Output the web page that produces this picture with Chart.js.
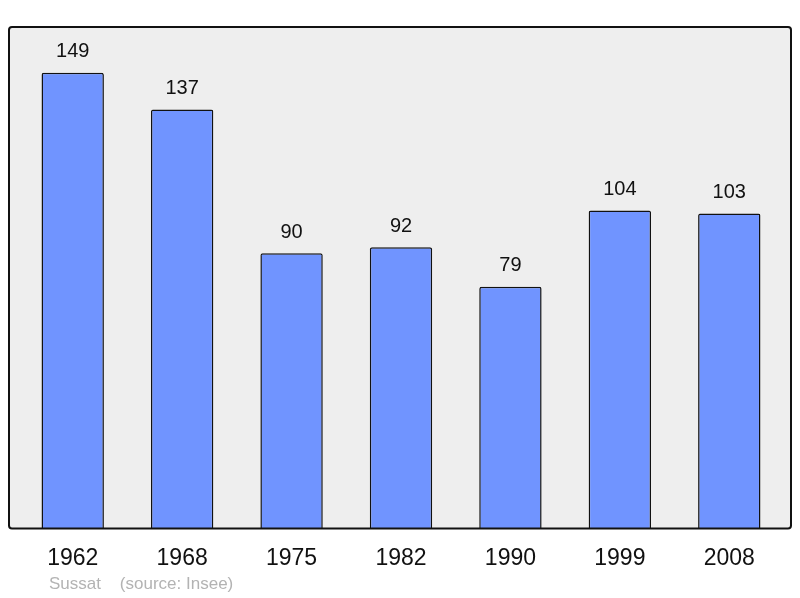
<!DOCTYPE html>
<html>
<head>
<meta charset="utf-8">
<script src="https://cdn.jsdelivr.net/npm/chart.js@4/dist/chart.umd.min.js"></script>
<style>
  body { margin: 0; background: #fff; }
  #wrap { position: relative; width: 800px; height: 598px; }
  #source { position: absolute; left: 49px; top: 574px; font: 17px "Liberation Sans", Arial, sans-serif; color: #b3b3b3; white-space: pre; }
</style>
</head>
<body>
<div id="wrap">
  <canvas id="popChart" width="800" height="598"></canvas>
  <div id="source">Sussat    (source: Insee)</div>
</div>
<script>
const years = ['1962', '1968', '1975', '1982', '1990', '1999', '2008'];
const population = [149, 137, 90, 92, 79, 104, 103];
const yMax = 164;

// grey frame behind the bars, black outline on top
const framePlugin = {
    id: 'frame',
    beforeDatasetsDraw(chart) {
        const a = chart.chartArea, ctx = chart.ctx;
        ctx.save();
        ctx.beginPath();
        ctx.roundRect(a.left - 9, a.top, a.right - a.left + 16, a.bottom - a.top, 3);
        ctx.fillStyle = '#eeeeee';
        ctx.fill();
        ctx.restore();
    },
    afterDatasetsDraw(chart) {
        const a = chart.chartArea, ctx = chart.ctx;
        ctx.save();
        ctx.beginPath();
        ctx.roundRect(a.left - 9, a.top, a.right - a.left + 16, a.bottom - a.top, 3);
        ctx.lineWidth = 2;
        ctx.strokeStyle = '#111';
        ctx.stroke();

        // value labels above each bar
        ctx.font = '20px "Liberation Sans", Arial, sans-serif';
        ctx.fillStyle = '#111';
        ctx.textAlign = 'center';
        ctx.textBaseline = 'middle';
        chart.getDatasetMeta(0).data.forEach((bar, i) => {
            ctx.fillText(population[i], bar.x, bar.y - 21);
        });
        ctx.restore();
    }
};

new Chart(document.getElementById('popChart'), {
    type: 'bar',
    data: {
        labels: years,
        datasets: [{
            data: population,
            backgroundColor: '#7094ff',
            borderColor: '#111',
            borderWidth: 1.5,
            borderSkipped: 'bottom',
            borderRadius: { topLeft: 2, topRight: 2 },
            categoryPercentage: 1,
            barPercentage: 0.57
        }]
    },
    options: {
        responsive: false,
        animation: false,
        layout: { padding: { left: 18, right: 16, top: 27, bottom: 10 } },
        plugins: { legend: { display: false }, tooltip: { enabled: false } },
        scales: {
            x: {
                grid: { display: false, drawTicks: false },
                border: { display: false },
                ticks: {
                    padding: 16,
                    color: '#111',
                    font: { family: '"Liberation Sans", Arial, sans-serif', size: 23 }
                }
            },
            y: { display: false, min: 0, max: yMax }
        }
    },
    plugins: [framePlugin]
});
</script>
</body>
</html>
